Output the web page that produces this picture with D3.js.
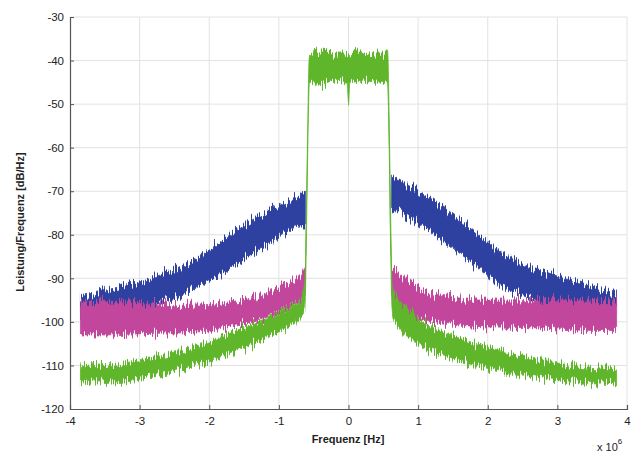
<!DOCTYPE html>
<html><head><meta charset="utf-8">
<script src="https://cdn.jsdelivr.net/npm/d3@7"></script>
<style>
html,body{margin:0;padding:0;background:#fff;}
svg{display:block;font-family:"Liberation Sans",Arial,sans-serif;}
</style></head>
<body><svg id="chart" width="637" height="452"></svg>
<script>
// Frequency axis in units of 10^6 Hz, PSD in dB/Hz
const xTicks = [-4, -3, -2, -1, 0, 1, 2, 3, 4];
const yTicks = [-120, -110, -100, -90, -80, -70, -60, -50, -40, -30];

// Blue series (envelope: upper / lower), left and right of the band
const blueFreq = [-3.85, -3.5, -3.14, -2.75, -2.35, -2.0, -1.7, -1.4, -1.13, -0.9, -0.7, -0.62,
                  0.62, 0.7, 0.9, 1.1, 1.47, 1.9, 2.18, 2.5, 2.75, 3.05, 3.33, 3.6, 3.85];
const blueHi = [-94.2, -93, -91.5, -89.5, -87, -83.5, -80, -77, -74.5, -72.5, -71, -70,
                -66.5, -67.4, -69, -71, -75.1, -80.4, -84, -86.5, -88, -89.8, -91.1, -92.5, -93.8];
const blueLo = [-99, -98, -97, -95.5, -93.5, -90.5, -87.5, -84.5, -82, -79.5, -78, -78,
                -74.5, -74.5, -76.5, -78.5, -82.7, -88, -91.5, -93.5, -95, -96, -96.5, -97, -97.5];

// Magenta series
const magFreq = [-3.85, -3.5, -3.14, -2.75, -2.35, -2.0, -1.7, -1.4, -1.13, -0.9, -0.7, -0.62,
                 0.62, 0.7, 0.9, 1.1, 1.47, 1.9, 2.18, 2.75, 3.33, 3.85];
const magHi = [-95.5, -95.5, -95.5, -95.8, -96.2, -96, -95.4, -94.5, -93, -91.5, -89.6, -87,
               -87, -88.5, -91.5, -93, -94.2, -95, -95, -94.8, -95.2, -95.4];
const magLo = [-103, -103, -102.8, -102.6, -102.5, -102, -101, -100, -98.5, -97, -95, -93,
               -93.5, -96, -98.5, -99.5, -100.5, -101.1, -101.2, -101.4, -101.9, -102];

// Green series (includes the in-band plateau)
const greenFreq = [-3.85, -3.5, -3.14, -2.75, -2.35, -2.0, -1.7, -1.4, -1.13, -0.9, -0.7, -0.64, -0.625,
                   -0.56, -0.4, -0.2, -0.02, 0, 0.02, 0.2, 0.4, 0.56,
                   0.625, 0.64, 0.7, 0.9, 1.1, 1.47, 1.9, 2.18, 2.75, 3.33, 3.85];
const greenHi = [-110.3, -109.8, -109, -108, -106.5, -104.6, -102.6, -100.6, -98.8, -97.2, -95.2, -92.5, -90,
                 -38.5, -38, -38.5, -38.5, -39, -38.5, -38, -38.5, -38.5,
                 -90, -92.5, -94.5, -98, -100.3, -103, -105.3, -106.6, -108.7, -110.2, -110.8];
const greenLo = [-114, -113.7, -113.2, -112.3, -110.8, -109.2, -107.3, -105.2, -103.2, -101.5, -99.3, -98, -96,
                 -45, -45.5, -44.5, -45, -50, -45, -44.5, -45, -45,
                 -96.5, -99, -100.8, -104, -106, -108.4, -110.3, -111.3, -112.8, -113.8, -114.2];

const seriesDefs = [
  {name: "blue", freq: blueFreq, hi: blueHi, lo: blueLo, color: "#2d41a0", gapAt: 0},
  {name: "magenta", freq: magFreq, hi: magHi, lo: magLo, color: "#c2479c", gapAt: 0},
  {name: "green", freq: greenFreq, hi: greenHi, lo: greenLo, color: "#5fb62c", gapAt: null}
];

const svg = d3.select("#chart");
const x = d3.scaleLinear().domain([-4, 4]).range([70, 627]);
const y = d3.scaleLinear().domain([-120, -30]).range([409, 17]);

// noise-like texture for the measured spectra (visual effect only)
const defs = svg.append("defs");
const filt = defs.append("filter").attr("id", "fuzz")
  .attr("filterUnits", "userSpaceOnUse").attr("x", 0).attr("y", 0).attr("width", 637).attr("height", 452);
filt.append("feTurbulence").attr("type", "fractalNoise").attr("baseFrequency", "0.9 0.012")
  .attr("numOctaves", 2).attr("seed", 7).attr("result", "noise");
const ct = filt.append("feComponentTransfer").attr("in", "noise").attr("result", "map");
ct.append("feFuncR").attr("type", "linear").attr("slope", 0).attr("intercept", 0.5);
ct.append("feFuncG").attr("type", "linear").attr("slope", 1.6).attr("intercept", -0.3);
ct.append("feFuncA").attr("type", "linear").attr("slope", 0).attr("intercept", 1);
filt.append("feDisplacementMap").attr("in", "SourceGraphic").attr("in2", "map")
  .attr("scale", 14).attr("xChannelSelector", "R").attr("yChannelSelector", "G");

// grid
const grid = svg.append("g");
grid.selectAll("line.gx").data(xTicks.slice(1)).join("line")
  .attr("x1", d => x(d)).attr("x2", d => x(d)).attr("y1", y(-120)).attr("y2", y(-30))
  .attr("stroke", "#e2e2e2").attr("stroke-width", 1);
grid.selectAll("line.gy").data(yTicks.slice(1)).join("line")
  .attr("x1", x(-4)).attr("x2", x(4)).attr("y1", d => y(d)).attr("y2", d => y(d))
  .attr("stroke", "#e2e2e2").attr("stroke-width", 1);

// series
const area = d3.area()
  .defined(d => d.defined)
  .x(d => x(d.f)).y0(d => y(d.lo)).y1(d => y(d.hi))
  .curve(d3.curveMonotoneX);

const gSeries = svg.append("g").attr("filter", "url(#fuzz)");
seriesDefs.forEach(s => {
  const pts = [];
  s.freq.forEach((f, i) => {
    if (s.gapAt !== null && i > 0 && s.freq[i - 1] < s.gapAt && f > s.gapAt) {
      pts.push({f: s.gapAt, hi: 0, lo: 0, defined: false});
    }
    pts.push({f, hi: s.hi[i], lo: s.lo[i], defined: true});
  });
  gSeries.append("path").datum(pts)
    .attr("d", area)
    .attr("fill", s.color)
    .attr("stroke", s.color)
    .attr("stroke-width", 0.8);
});

// axes
const fmt = d => String(d);
const ax = svg.append("g").attr("transform", `translate(0,${y(-120)})`)
  .call(d3.axisBottom(x).tickValues(xTicks).tickSize(-4).tickPadding(8).tickFormat(fmt));
const ay = svg.append("g").attr("transform", `translate(${x(-4)},0)`)
  .call(d3.axisLeft(y).tickValues(yTicks).tickSize(-4).tickPadding(6).tickFormat(fmt));
[ax, ay].forEach(g => {
  g.select(".domain").attr("stroke", "#555").attr("stroke-width", 1.2);
  g.selectAll(".tick line").attr("stroke", "#555");
  g.selectAll(".tick text").attr("fill", "#222").attr("font-size", 11.5)
    .attr("font-family", "Liberation Sans, Arial, sans-serif");
});

// labels
svg.append("text").attr("x", 348).attr("y", 443).attr("text-anchor", "middle")
  .attr("font-size", 11).attr("font-weight", "bold").attr("fill", "#222").text("Frequenz [Hz]");
svg.append("text").attr("transform", "translate(24,222) rotate(-90)").attr("text-anchor", "middle")
  .attr("font-size", 11).attr("font-weight", "bold").attr("fill", "#222").text("Leistung/Frequenz [dB/Hz]");
const mult = svg.append("text").attr("x", 597).attr("y", 451).attr("font-size", 11).attr("fill", "#222");
mult.append("tspan").text("x 10");
mult.append("tspan").attr("dy", -7).attr("font-size", 8).text("6");
</script></body></html>
